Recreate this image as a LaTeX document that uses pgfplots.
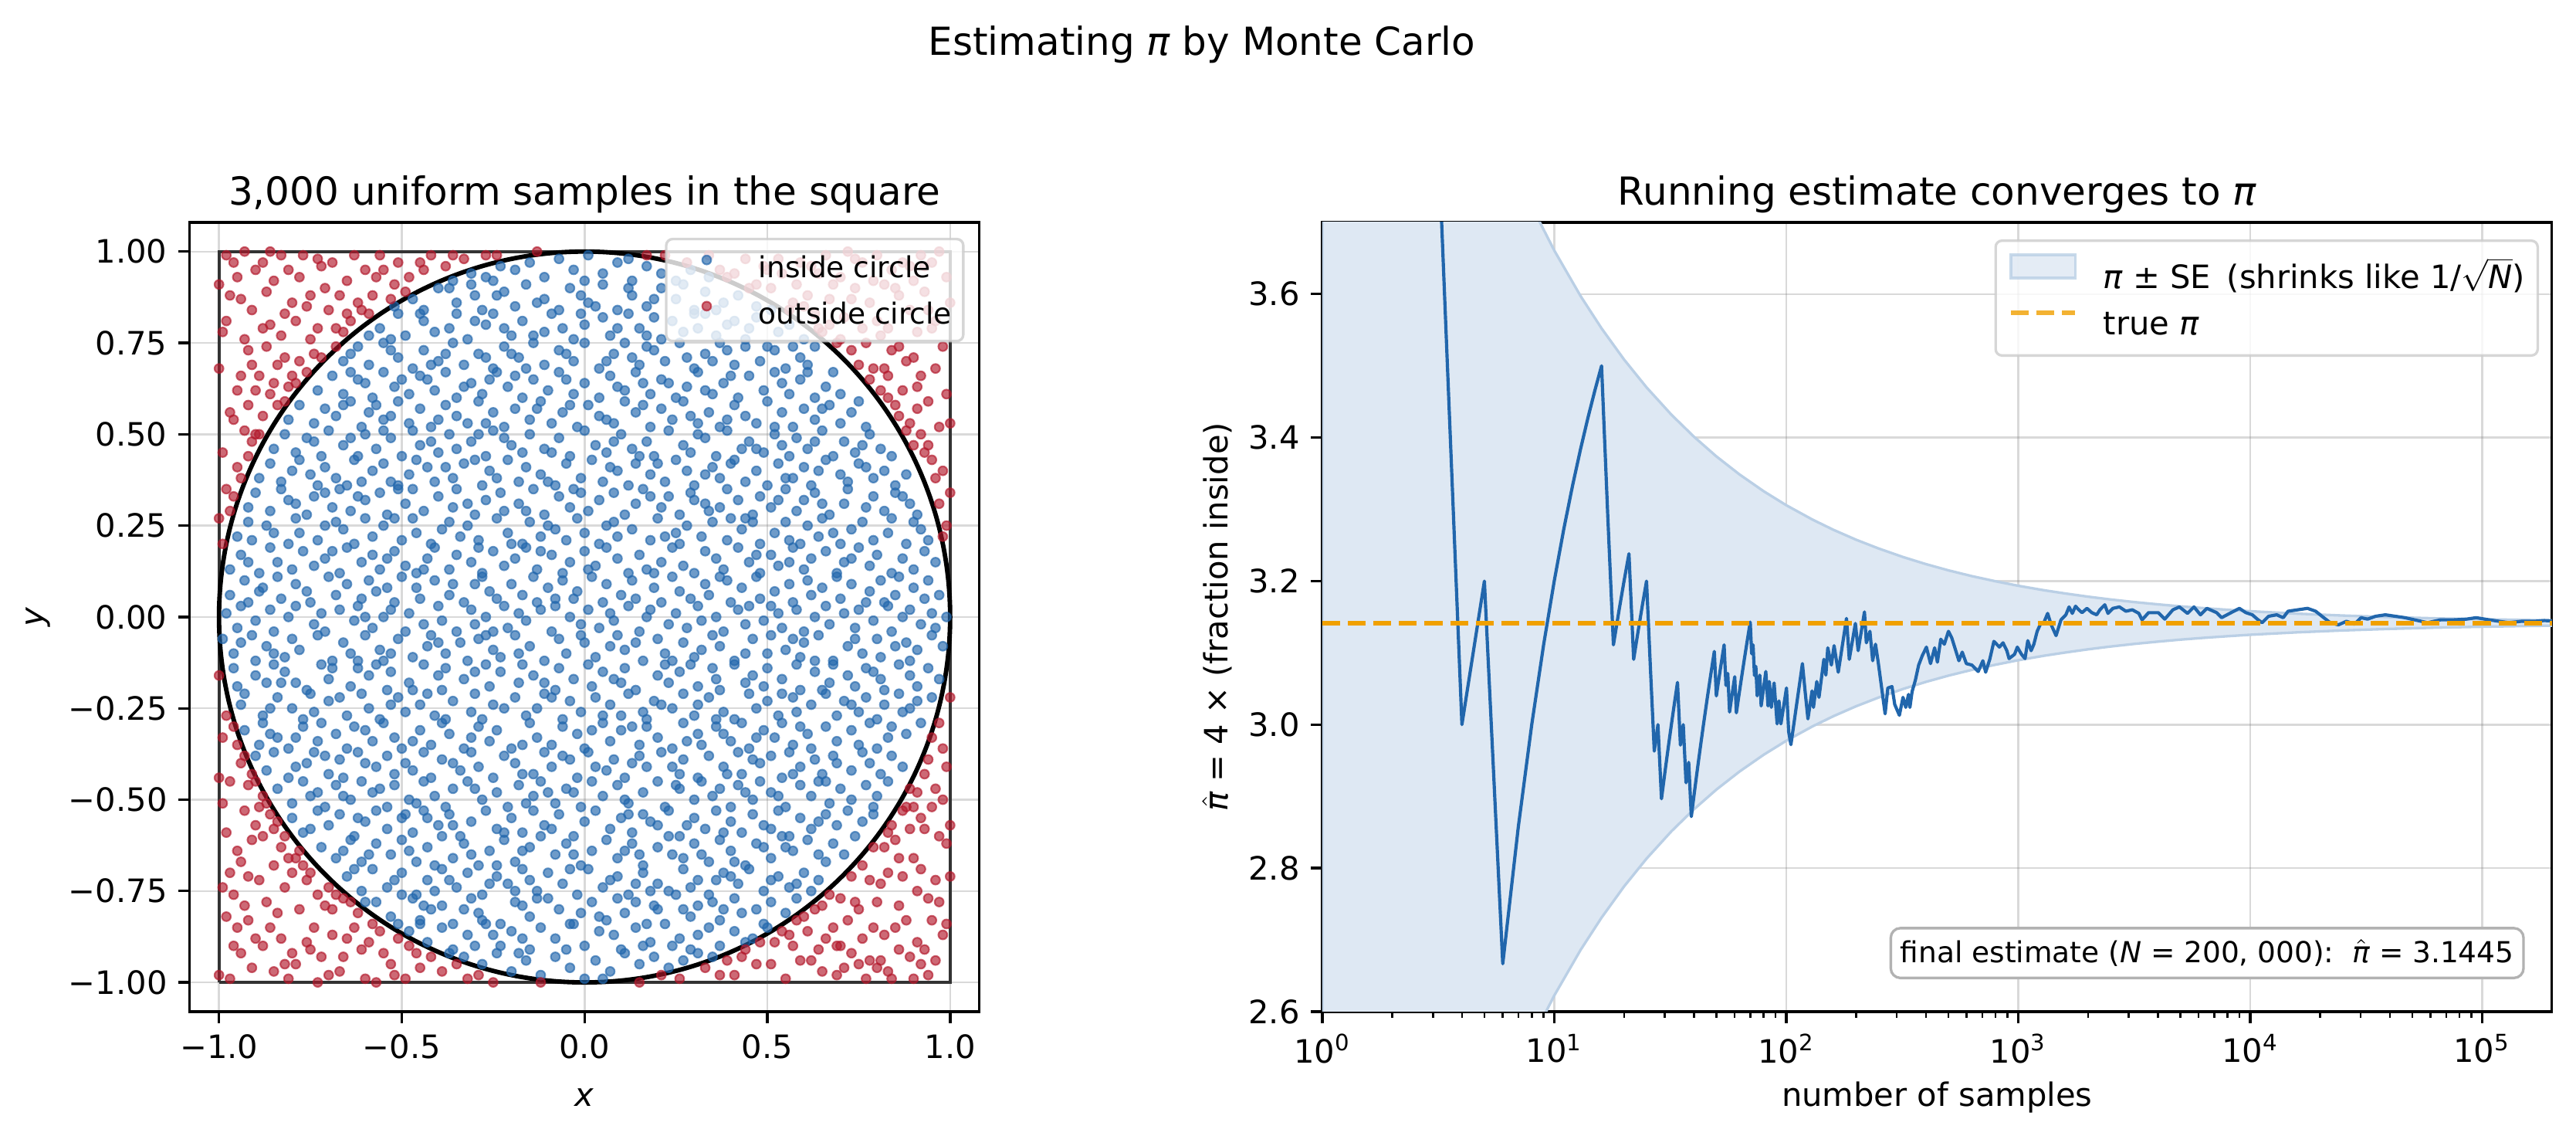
\documentclass[border=0pt]{standalone}
\usepackage{fontspec}
\setmainfont{DejaVu Sans}
\usepackage{pgfplots}
\pgfplotsset{compat=1.18}

\definecolor{inblue}{HTML}{2166AC}
\definecolor{outred}{HTML}{B2182B}
\definecolor{bandfill}{HTML}{DEE8F3}
\definecolor{bandedge}{HTML}{BACFE5}
\definecolor{truepi}{HTML}{F0A000}
\definecolor{squaregray}{HTML}{333333}
\definecolor{framegray}{HTML}{CCCCCC}

\newcommand{\tenpt}{\fontsize{10}{12}\selectfont}
\newcommand{\ninept}{\fontsize{9}{10.8}\selectfont}
\newcommand{\twelvept}{\fontsize{12}{14.4}\selectfont}
\newcommand{\itpi}{\mbox{\itshape π}}

\pgfplotsset{
  mpl/.style={
    scale only axis,
    axis line style={line width=0.8pt},
    every major tick/.append style={black, line width=0.8pt},
    every minor tick/.append style={black, line width=0.6pt},
    major tick length=3.5pt,
    minor tick length=2pt,
    tick align=outside,
    tick pos=left,
    grid=major,
    major grid style={line width=0.6pt, gray, opacity=0.3},
    tick label style={font=\tenpt},
    label style={font=\tenpt},
    title style={font=\twelvept, at={(axis description cs:0.5,1)}, anchor=base, yshift=-0.7pt},
    xlabel style={at={(axis description cs:0.5,0)}, anchor=base, yshift=-29.3pt},
    /pgf/number format/assume math mode=true,
  },
  patchlegend/.style={legend image code/.code={\draw[##1, sharp corners] (0pt,0pt) rectangle (20pt,7.2pt);}},
  dashlegend/.style={legend image code/.code={\draw[##1, sharp corners] (0pt,3.6pt) -- (20pt,3.6pt);}},
  dotlegend/.style={legend image code/.code={%
    \path[draw=none, fill=none, sharp corners] (0pt,0pt) rectangle (18pt,6pt);
    \draw[draw=#1, fill=#1, draw opacity=0.65, fill opacity=0.65, line width=0.5pt, sharp corners] (9pt,3pt) circle [radius=1.4pt];}},
  samplemarks/.style={only marks, mark=*, mark size=1.4pt, color=#1,
    mark options={line width=0.5pt, draw=#1, fill=#1, draw opacity=0.65, fill opacity=0.65},
    dotlegend=#1},
}

\begin{document}
\begin{tikzpicture}
\path[use as bounding box] (0,0) rectangle (800.9pt,353pt);

\node[anchor=base, font=\twelvept] at (373.7pt,335.8pt) {Estimating {\itshape π} by Monte Carlo};

% ---------------- left panel: samples in the unit square (coordinates in hundredths)
\begin{axis}[mpl,
  at={(59pt,38.6pt)}, anchor=south west,
  width=245.5pt, height=245.3pt,
  xmin=-108, xmax=108, ymin=-108, ymax=108,
  xtick={-100,-50,0,50,100},
  xticklabels={−1.0,−0.5,0.0,0.5,1.0},
  ytick={-100,-75,-50,-25,0,25,50,75,100},
  yticklabels={−1.00,−0.75,−0.50,−0.25,0.00,0.25,0.50,0.75,1.00},
  xlabel={\itshape x}, ylabel={\itshape y},
  ylabel style={at={(axis description cs:-0.1846,0.5)}, anchor=base},
  title={3,000 uniform samples in the square},
  legend cell align=left,
  legend style={at={(axis description cs:1,1)}, anchor=north east, xshift=-4.6pt, yshift=-4.8pt,
    draw=framegray, line width=0.8pt, rounded corners=2pt, fill=white, fill opacity=0.8,
    draw opacity=0.8, text opacity=1, font=\ninept, inner xsep=3.6pt, inner ysep=3.5pt,
    row sep=4pt, nodes={inner sep=0pt, text height=6.8pt, text depth=1.9pt},
    /tikz/every odd column/.append style={column sep=7.2pt}},
]
% the unit square
\addplot[forget plot, mark=none, line width=1pt, color=squaregray]
  coordinates {(-100,-100) (100,-100) (100,100) (-100,100) (-100,-100)};

% samples that fall inside the circle
\addplot[samplemarks=inblue]
coordinates {
(-98,1) (-95,-3) (-94,3) (-90,-1) (-86,2) (-85,-4) (-81,0) (-79,3) (-74,-2) (-72,1) (-71,-4) (-67,2) (-63,-1) (-62,3) (-58,-3) (-55,0) (-53,2) (-49,-4) (-48,1) (-44,-2) (-40,3) (-39,-1) (-35,-4) (-31,2) (-30,-2) (-27,0) (-22,3) (-21,-3) (-18,1) (-16,-1) (-12,2) (-9,-4) (-8,3) (-4,0) (-1,-2) (1,2) (4,-3) (7,1) (8,-1) (12,3) (15,-4) (17,0) (18,2) (23,-2) (25,1) (28,-3) (31,3) (32,-1) (36,0) (38,-4) (42,2) (44,-2) (45,3) (49,-1) (53,1) (54,-3) (58,2) (60,-4) (63,0) (66,3) (67,-2) (71,1) (74,-3) (75,2) (79,-1) (83,3) (84,-4) (87,0) (89,2) (92,-2) (95,1) (96,-3) (99,0) (-60,0) (-25,-4) (51,3)
(-97,6) (-93,10) (-92,4) (-88,8) (-84,11) (-83,5) (-79,9) (-76,7) (-75,4) (-70,11) (-68,6) (-65,9) (-61,5) (-59,10) (-57,7) (-52,4) (-50,11) (-46,8) (-45,5) (-41,10) (-37,6) (-36,9) (-33,4) (-28,11) (-26,7) (-24,5) (-20,9) (-17,6) (-14,11) (-13,4) (-10,8) (-6,10) (-3,5) (-2,7) (2,11) (5,4) (6,9) (10,6) (13,10) (14,5) (19,8) (21,4) (24,11) (26,7) (29,5) (33,9) (34,6) (39,10) (40,4) (43,8) (47,11) (48,5) (52,7) (56,9) (57,4) (61,10) (62,6) (65,8) (69,11) (70,5) (73,9) (77,4) (78,7) (81,10) (85,6) (86,11) (90,8) (93,5) (94,10) (97,6) (-54,8) (-8,5) (37,11) (-30,9) (82,4) (-89,7)
(-99,-6) (-96,-10) (-91,-5) (-90,-12) (-87,-8) (-82,-11) (-80,-6) (-78,-9) (-73,-5) (-69,-12) (-66,-7) (-64,-10) (-60,-5) (-56,-9) (-55,-12) (-51,-6) (-47,-11) (-43,-8) (-42,-5) (-38,-10) (-34,-7) (-32,-12) (-29,-6) (-25,-9) (-23,-11) (-19,-5) (-15,-8) (-11,-12) (-7,-6) (-5,-10) (0,-7) (3,-11) (9,-5) (11,-9) (16,-12) (20,-6) (22,-10) (27,-7) (30,-11) (35,-5) (37,-8) (41,-12) (46,-6) (50,-10) (51,-5) (55,-9) (59,-11) (60,-7) (64,-5) (68,-12) (72,-8) (76,-10) (80,-6) (81,-11) (88,-7) (91,-9) (95,-5) (98,-8) (-85,-10) (-62,-12) (-40,-7) (-18,-10) (-1,-5) (14,-7) (32,-9) (44,-10) (63,-12) (74,-6) (85,-8) (-94,-7) (-53,-10) (7,-8) (57,-6) (89,-12) (-27,-5) (24,-12)
(-97,13) (-94,17) (-89,12) (-86,19) (-84,15) (-80,13) (-77,18) (-74,14) (-71,16) (-67,12) (-65,19) (-61,15) (-58,17) (-56,13) (-52,18) (-49,14) (-46,12) (-43,16) (-41,19) (-37,13) (-35,17) (-31,15) (-28,12) (-25,18) (-22,14) (-19,16) (-16,19) (-13,13) (-9,17) (-6,12) (-4,15) (0,18) (3,14) (6,19) (9,16) (12,12) (15,17) (17,13) (21,15) (24,19) (27,14) (30,12) (33,18) (36,16) (38,13) (42,19) (45,15) (48,12) (51,17) (53,14) (57,19) (60,13) (62,16) (66,18) (69,12) (71,15) (75,19) (78,14) (80,17) (84,12) (87,16) (90,13) (93,18) (96,15) (-92,15) (-69,18) (-44,13) (-12,18) (19,12) (47,17) (73,16) (-54,16) (1,13) (-29,19) (56,15)
(-96,-14) (-95,-19) (-90,-16) (-85,-13) (-83,-18) (-82,-15) (-76,-20) (-72,-13) (-70,-17) (-69,-14) (-64,-19) (-59,-16) (-57,-13) (-54,-20) (-53,-15) (-48,-18) (-44,-13) (-40,-16) (-39,-20) (-38,-14) (-33,-17) (-27,-13) (-26,-19) (-23,-15) (-18,-18) (-17,-13) (-14,-16) (-8,-20) (-7,-14) (-3,-17) (1,-13) (2,-19) (5,-15) (10,-18) (11,-14) (14,-20) (20,-16) (22,-13) (23,-18) (26,-15) (31,-19) (35,-14) (36,-17) (37,-20) (41,-13) (46,-16) (49,-19) (50,-14) (54,-17) (58,-13) (59,-20) (63,-15) (67,-18) (68,-13) (72,-16) (74,-19) (77,-14) (81,-17) (82,-20) (86,-13) (89,-16) (91,-19) (94,-14) (97,-17) (-87,-18) (-62,-14) (-47,-20) (-30,-15) (-11,-18) (8,-17) (29,-13) (44,-18) (65,-20) (79,-15) (-79,-18)
(-95,22) (-92,26) (-91,21) (-87,25) (-81,20) (-79,27) (-78,23) (-73,21) (-68,26) (-66,24) (-63,20) (-60,27) (-58,22) (-55,25) (-50,21) (-47,27) (-46,23) (-42,20) (-37,26) (-34,22) (-32,25) (-29,21) (-24,27) (-21,23) (-20,20) (-15,26) (-12,22) (-10,25) (-5,21) (-2,27) (0,23) (4,20) (8,26) (9,22) (13,24) (18,21) (20,27) (25,23) (26,20) (28,25) (32,22) (35,26) (39,21) (43,24) (44,27) (48,20) (52,23) (55,26) (56,21) (61,25) (64,22) (65,27) (70,20) (73,24) (76,26) (79,21) (83,23) (84,27) (88,20) (92,24) (94,21) (-85,23) (-71,25) (-52,27) (-39,24) (-17,20) (6,25) (22,22) (40,27) (59,20) (68,23) (90,26) (-8,24) (46,26)
(-94,-24) (-93,-21) (-88,-27) (-84,-22) (-80,-25) (-77,-28) (-75,-21) (-74,-26) (-70,-23) (-65,-27) (-61,-21) (-59,-25) (-56,-28) (-51,-22) (-49,-26) (-45,-24) (-43,-21) (-41,-27) (-36,-23) (-31,-26) (-30,-21) (-28,-28) (-25,-24) (-19,-22) (-16,-27) (-13,-25) (-11,-21) (-6,-28) (-4,-23) (-1,-26) (3,-22) (5,-27) (7,-24) (12,-21) (16,-26) (17,-28) (19,-23) (24,-25) (27,-21) (30,-27) (31,-24) (34,-22) (38,-26) (41,-28) (45,-21) (47,-25) (50,-23) (53,-27) (57,-22) (58,-26) (62,-24) (66,-21) (69,-27) (71,-23) (75,-26) (77,-22) (80,-28) (82,-24) (86,-21) (87,-26) (91,-23) (95,-22) (-86,-25) (-67,-22) (-53,-24) (-38,-28) (-22,-25) (-9,-22) (10,-27) (21,-24) (36,-28) (54,-21) (73,-24) (89,-25)
(-92,30) (-90,34) (-86,29) (-83,35) (-79,31) (-76,28) (-74,33) (-69,30) (-67,35) (-64,29) (-60,32) (-56,34) (-54,28) (-49,31) (-47,35) (-44,29) (-40,33) (-36,30) (-35,35) (-30,28) (-27,32) (-23,34) (-22,29) (-18,31) (-14,35) (-11,28) (-7,33) (-4,30) (-3,35) (1,29) (4,32) (8,34) (11,28) (14,31) (16,35) (21,30) (23,33) (26,28) (29,34) (33,31) (34,29) (39,35) (42,32) (46,28) (48,33) (51,30) (55,35) (58,29) (60,32) (63,34) (67,28) (71,31) (72,35) (77,30) (79,33) (82,29) (85,34) (89,31) (91,28) (-81,32) (-62,33) (-51,35) (-32,31) (-16,29) (-1,34) (18,33) (37,30) (53,32) (65,31) (87,33) (-71,34) (30,32)
(-93,-31) (-89,-35) (-88,-29) (-84,-33) (-81,-36) (-77,-30) (-73,-34) (-72,-29) (-68,-32) (-65,-36) (-63,-30) (-58,-34) (-55,-29) (-52,-33) (-50,-36) (-45,-31) (-42,-35) (-39,-29) (-37,-32) (-33,-36) (-29,-30) (-26,-34) (-24,-31) (-20,-36) (-15,-29) (-13,-33) (-9,-35) (-6,-30) (-2,-32) (0,-36) (5,-29) (7,-34) (10,-31) (15,-35) (17,-30) (20,-33) (24,-36) (27,-29) (31,-32) (32,-35) (36,-30) (40,-34) (43,-29) (45,-36) (49,-31) (52,-33) (54,-29) (57,-35) (61,-32) (62,-36) (66,-30) (69,-34) (73,-31) (75,-35) (78,-29) (83,-33) (84,-30) (88,-32) (92,-29) (-79,-33) (-60,-31) (-47,-34) (-31,-33) (-17,-35) (2,-31) (13,-30) (28,-34) (38,-32) (59,-30) (80,-36) (-86,-32) (47,-33)
(-89,38) (-86,42) (-83,37) (-80,40) (-78,43) (-73,36) (-71,41) (-68,38) (-63,43) (-61,37) (-58,40) (-55,42) (-51,36) (-48,39) (-46,43) (-41,37) (-38,41) (-36,38) (-33,42) (-28,36) (-26,40) (-21,43) (-18,37) (-16,41) (-12,39) (-8,36) (-5,42) (-1,38) (2,43) (5,37) (9,40) (12,36) (14,42) (18,39) (22,37) (25,43) (28,40) (30,36) (35,41) (37,38) (41,43) (44,37) (47,40) (50,36) (53,42) (57,38) (60,41) (62,36) (66,43) (70,39) (72,37) (75,42) (79,38) (82,40) (85,36) (88,39) (-75,39) (-53,37) (-43,41) (-30,43) (-10,37) (7,41) (20,42) (33,39) (55,38) (64,40) (77,41) (-65,36) (-24,38) (40,42)
(-90,-38) (-87,-42) (-85,-37) (-81,-44) (-76,-40) (-74,-37) (-70,-43) (-67,-39) (-66,-44) (-62,-37) (-57,-41) (-54,-38) (-52,-43) (-49,-40) (-44,-37) (-42,-44) (-39,-39) (-34,-42) (-31,-37) (-29,-41) (-25,-44) (-22,-38) (-19,-40) (-14,-43) (-11,-37) (-9,-41) (-4,-39) (-2,-44) (1,-37) (6,-42) (8,-39) (11,-44) (15,-38) (17,-41) (21,-37) (26,-43) (27,-39) (31,-44) (34,-38) (38,-41) (42,-37) (43,-43) (48,-40) (51,-38) (54,-44) (56,-37) (59,-41) (63,-39) (65,-43) (68,-38) (73,-42) (76,-37) (78,-40) (81,-43) (84,-38) (87,-41) (-79,-41) (-60,-40) (-47,-42) (-36,-40) (-17,-43) (-6,-38) (13,-40) (24,-41) (39,-43) (46,-39) (69,-40) (-71,-38) (3,-41) (57,-43)
(-85,46) (-82,50) (-79,45) (-76,49) (-72,44) (-70,51) (-66,47) (-62,44) (-60,50) (-57,46) (-53,49) (-50,44) (-47,51) (-45,47) (-40,45) (-37,50) (-35,46) (-31,48) (-27,44) (-25,51) (-20,47) (-17,45) (-15,50) (-11,46) (-7,49) (-4,44) (0,51) (3,47) (6,45) (10,50) (13,46) (17,48) (19,44) (23,51) (27,47) (29,45) (33,49) (36,44) (39,51) (43,46) (45,48) (49,45) (52,50) (56,44) (58,49) (61,46) (65,51) (68,44) (71,48) (74,45) (78,50) (81,46) (84,44) (-74,48) (-55,51) (-42,48) (-29,50) (-9,45) (8,48) (15,44) (31,50) (47,46) (63,48) (76,47) (-64,49) (-22,49) (54,47)
(-84,-47) (-80,-51) (-77,-45) (-75,-49) (-71,-52) (-68,-46) (-64,-50) (-61,-45) (-58,-48) (-54,-52) (-52,-46) (-48,-50) (-44,-45) (-41,-49) (-38,-52) (-36,-47) (-32,-45) (-28,-50) (-24,-48) (-21,-52) (-18,-46) (-14,-49) (-12,-45) (-8,-51) (-5,-47) (-1,-52) (2,-45) (5,-49) (9,-46) (12,-51) (16,-48) (20,-45) (22,-52) (26,-47) (30,-50) (32,-45) (35,-49) (40,-52) (42,-46) (46,-50) (48,-45) (51,-48) (55,-52) (59,-46) (62,-49) (64,-45) (67,-51) (70,-47) (73,-50) (77,-46) (80,-49) (83,-45) (-73,-48) (-56,-47) (-46,-51) (-30,-47) (-16,-51) (-3,-48) (11,-50) (25,-46) (37,-47) (53,-49) (66,-45) (79,-52) (-66,-49) (-10,-48) (44,-48)
(-81,54) (-78,58) (-74,53) (-71,57) (-68,55) (-64,59) (-61,52) (-59,56) (-55,54) (-51,59) (-48,53) (-45,57) (-42,52) (-38,58) (-35,55) (-32,53) (-29,59) (-25,56) (-22,52) (-19,57) (-15,54) (-12,59) (-9,53) (-6,56) (-2,52) (1,58) (4,55) (8,53) (11,59) (14,56) (18,52) (21,57) (24,54) (27,59) (31,53) (34,56) (37,52) (41,58) (44,55) (47,53) (50,59) (54,56) (57,52) (60,57) (63,54) (67,58) (70,53) (73,56) (77,52) (-66,58) (-53,55) (-40,54) (-27,53) (-13,57) (-4,58) (16,58) (29,55) (39,54) (52,52) (65,57) (75,59) (-57,58) (6,54)
(-80,-55) (-77,-59) (-73,-53) (-70,-57) (-67,-54) (-63,-60) (-60,-56) (-57,-53) (-54,-58) (-50,-55) (-47,-59) (-44,-53) (-40,-57) (-37,-54) (-34,-60) (-31,-56) (-27,-53) (-24,-58) (-20,-55) (-17,-59) (-14,-53) (-11,-57) (-7,-54) (-3,-60) (0,-56) (3,-53) (7,-58) (10,-55) (13,-59) (16,-54) (20,-57) (23,-53) (26,-60) (30,-55) (33,-58) (36,-53) (40,-56) (43,-59) (46,-54) (49,-57) (53,-53) (56,-60) (59,-55) (62,-58) (66,-54) (69,-57) (72,-53) (76,-56) (79,-54) (-75,-58) (-62,-55) (-49,-54) (-36,-57) (-22,-59) (-9,-58) (12,-54) (28,-57) (38,-59) (51,-58) (64,-56) (74,-60) (-43,-55) (18,-56)
(-73,62) (-69,66) (-66,61) (-62,65) (-58,60) (-55,67) (-52,63) (-48,61) (-45,66) (-41,62) (-38,67) (-35,60) (-31,64) (-28,61) (-24,67) (-21,63) (-17,60) (-14,65) (-10,62) (-7,67) (-3,61) (0,64) (4,60) (7,66) (11,62) (14,67) (18,61) (21,65) (25,60) (28,63) (31,67) (35,61) (38,64) (42,60) (45,66) (49,62) (52,67) (56,61) (59,65) (63,60) (66,63) (70,61) (-60,64) (-43,65) (-33,63) (-19,66) (-5,65) (9,63) (23,64) (40,66) (54,64) (68,67) (-50,65) (-26,65) (16,64) (33,62) (61,67) (-64,67)
(-72,-63) (-68,-66) (-64,-61) (-61,-67) (-57,-62) (-53,-65) (-50,-61) (-46,-67) (-43,-63) (-39,-60) (-36,-66) (-33,-62) (-29,-68) (-26,-64) (-22,-61) (-19,-67) (-15,-63) (-12,-60) (-8,-65) (-5,-62) (-1,-68) (2,-64) (6,-61) (9,-66) (13,-62) (16,-68) (20,-63) (23,-60) (27,-66) (30,-62) (34,-67) (37,-61) (40,-64) (44,-68) (47,-62) (51,-66) (54,-60) (57,-64) (61,-61) (64,-65) (68,-62) (71,-65) (-59,-65) (-41,-68) (-31,-65) (-17,-64) (-3,-65) (11,-64) (24,-65) (41,-67) (55,-63) (66,-67) (-48,-64) (-24,-68) (15,-65) (32,-65) (49,-63) (-66,-64)
(-66,70) (-62,74) (-59,69) (-55,75) (-51,71) (-47,68) (-44,73) (-40,70) (-36,75) (-33,69) (-29,72) (-25,68) (-22,74) (-18,71) (-14,75) (-11,69) (-7,73) (-3,70) (0,75) (4,68) (8,72) (11,75) (15,69) (19,73) (22,70) (26,75) (30,68) (33,72) (37,75) (41,69) (44,74) (48,70) (52,73) (55,68) (59,71) (63,74) (-53,73) (-38,72) (-27,71) (-16,68) (-5,72) (6,70) (17,74) (28,71) (39,73) (50,74) (61,69) (-64,72) (-42,69) (-20,72) (13,71) (35,70) (57,74)
(-65,-71) (-61,-75) (-58,-69) (-54,-74) (-50,-70) (-46,-76) (-43,-72) (-39,-69) (-35,-74) (-32,-70) (-28,-76) (-24,-71) (-21,-73) (-17,-69) (-13,-75) (-10,-70) (-6,-73) (-2,-76) (1,-69) (5,-74) (9,-71) (12,-76) (16,-70) (20,-73) (23,-75) (27,-69) (31,-72) (34,-76) (38,-70) (42,-73) (45,-69) (49,-75) (53,-71) (56,-74) (60,-70) (64,-72) (-52,-72) (-37,-72) (-26,-73) (-15,-72) (-4,-69) (7,-72) (18,-75) (29,-74) (40,-71) (51,-72) (62,-75) (-63,-69) (-41,-75) (-19,-75) (14,-73) (36,-72) (58,-73)
(-56,79) (-51,83) (-49,77) (-44,81) (-41,78) (-35,83) (-32,76) (-27,80) (-25,83) (-20,77) (-17,81) (-11,78) (-9,83) (-3,76) (0,80) (5,82) (7,77) (12,83) (15,79) (21,76) (24,81) (27,78) (33,83) (36,77) (39,80) (44,76) (47,82) (53,78) (56,80) (-53,76) (-37,79) (-22,79) (-14,77) (-1,83) (9,79) (19,82) (31,79) (45,79) (-59,77) (-45,83) (-30,81) (-6,79) (17,77) (30,83) (41,81) (60,76)
(-57,-78) (-53,-82) (-47,-77) (-45,-83) (-39,-79) (-36,-84) (-31,-77) (-29,-81) (-23,-84) (-19,-78) (-15,-82) (-13,-77) (-7,-80) (-4,-84) (2,-78) (4,-82) (9,-77) (11,-81) (17,-84) (19,-79) (25,-76) (29,-82) (31,-79) (37,-83) (41,-77) (43,-81) (49,-84) (51,-78) (55,-81) (-50,-76) (-42,-80) (-28,-83) (-17,-79) (-1,-81) (6,-83) (20,-80) (35,-78) (47,-80) (-60,-78) (-44,-79) (-33,-80) (-10,-77) (14,-78) (27,-80) (38,-80) (58,-77)
(-52,85) (-47,87) (-44,84) (-40,90) (-35,86) (-31,91) (-28,84) (-24,88) (-19,85) (-16,91) (-11,87) (-7,84) (-4,90) (1,86) (5,91) (9,84) (13,88) (17,85) (21,90) (25,87) (30,84) (33,89) (38,86) (42,88) (47,85) (51,84) (-37,90) (-22,89) (-13,86) (-1,88) (12,90) (27,91) (-30,88) (3,85) (19,87) (36,84)
(-51,-84) (-48,-86) (-43,-89) (-39,-85) (-36,-91) (-32,-87) (-27,-84) (-23,-90) (-20,-86) (-15,-91) (-12,-85) (-8,-88) (-3,-84) (0,-90) (4,-86) (10,-91) (14,-85) (18,-89) (22,-84) (26,-88) (29,-91) (34,-85) (37,-90) (41,-86) (46,-88) (50,-85) (-45,-84) (-30,-90) (-17,-88) (-5,-91) (8,-87) (24,-90) (-25,-87) (16,-90) (31,-87) (44,-89)
(-36,92) (-31,94) (-27,93) (-23,96) (-19,95) (-15,97) (-11,93) (-7,98) (-3,95) (1,99) (5,94) (9,97) (13,92) (17,96) (21,94) (25,92) (29,95) (34,93) (-25,92) (0,92) (12,98)
(-37,-92) (-33,-93) (-28,-95) (-24,-92) (-20,-97) (-16,-94) (-12,-98) (-8,-93) (-4,-96) (0,-99) (3,-94) (7,-97) (11,-92) (15,-95) (19,-93) (23,-96) (27,-94) (31,-92) (35,-93) (-18,-92) (5,-99)
};
\addlegendentry{inside circle}

% samples that fall outside the circle
\addplot[samplemarks=outred]
coordinates {
(-99,45) (-97,88) (-95,62) (-92,73) (-100,27) (-96,97) (-93,51) (-91,84) (-98,35) (-94,66) (-90,95) (-99,78) (-97,29) (-95,41) (-92,58) (-100,91) (-96,54) (-93,100) (-91,69) (-98,81) (-94,38) (-90,62) (-99,20) (-97,56) (-95,93) (-92,44) (-100,68) (-96,33) (-94,87) (-91,48) (-98,99) (-93,76) (-90,50)
(-88,55) (-85,92) (-82,71) (-89,66) (-86,80) (-83,99) (-81,63) (-87,74) (-84,58) (-80,86) (-88,97) (-85,64) (-82,83) (-89,50) (-86,61) (-83,77) (-81,95) (-87,89) (-84,69) (-80,66) (-86,100) (-82,59) (-88,79)
(-78,70) (-75,88) (-72,96) (-79,81) (-76,67) (-73,79) (-71,90) (-77,99) (-74,72) (-70,84) (-78,93) (-75,76) (-72,71) (-79,64) (-76,85) (-73,98)
(-68,79) (-65,92) (-62,86) (-69,97) (-66,78) (-63,99) (-61,84) (-67,88) (-64,81) (-60,95) (-68,74) (-65,83)
(-58,88) (-55,95) (-52,91) (-59,83) (-56,99) (-53,87) (-57,93) (-51,97) (-48,93) (-45,97) (-42,99) (-49,89) (-44,95)
(-38,96) (-33,98) (-36,99) (-27,99) (-24,99) (-13,100)
(98,40) (95,79) (91,57) (99,93) (93,45) (96,68) (92,99) (100,34) (94,84) (90,71) (97,52) (99,25) (95,97) (91,63) (93,89) (96,38) (98,74) (92,50) (100,86) (94,59) (90,92) (97,31) (99,61) (95,43) (91,78) (93,96) (96,81) (98,22) (92,66) (100,53) (94,47) (90,47) (97,100)
(87,62) (84,95) (81,77) (89,53) (86,88) (83,66) (80,99) (88,70) (85,58) (82,91) (89,84) (86,55) (83,79) (81,62) (87,97) (84,73) (80,81) (88,51) (85,90) (82,68) (89,96) (86,74) (83,60)
(77,75) (74,90) (71,82) (79,68) (76,97) (73,73) (70,93) (78,86) (75,69) (72,100) (79,92) (76,79) (73,87) (70,76) (78,65) (74,98)
(67,80) (64,94) (61,88) (69,75) (66,99) (63,83) (68,91) (65,78) (62,96) (60,85) (67,87) (64,79)
(57,86) (54,94) (51,90) (59,97) (56,84) (53,98) (58,91) (50,95) (47,91) (44,98) (41,94) (49,96) (45,90)
(37,95) (34,99) (39,93) (28,97) (22,99) (17,99)
(-97,-45) (-94,-92) (-91,-61) (-99,-33) (-96,-76) (-93,-53) (-100,-98) (-92,-83) (-98,-27) (-95,-64) (-90,-88) (-97,-70) (-99,-51) (-94,-40) (-91,-96) (-96,-30) (-93,-79) (-100,-16) (-98,-59) (-92,-46) (-95,-85) (-90,-57) (-97,-99) (-99,-74) (-94,-67) (-91,-43) (-96,-90) (-93,-38) (-100,-44) (-98,-82) (-95,-35) (-92,-71) (-90,-45)
(-88,-60) (-85,-97) (-82,-74) (-89,-52) (-86,-85) (-83,-63) (-80,-92) (-87,-78) (-84,-56) (-81,-99) (-88,-90) (-85,-68) (-82,-60) (-89,-72) (-86,-54) (-83,-88) (-80,-70) (-87,-51) (-84,-81) (-81,-66) (-88,-49) (-85,-58) (-82,-95)
(-79,-66) (-76,-89) (-73,-76) (-70,-98) (-78,-80) (-75,-70) (-72,-93) (-77,-68) (-74,-85) (-71,-79) (-79,-95) (-76,-72) (-73,-100) (-70,-74) (-78,-64) (-75,-91)
(-69,-80) (-66,-93) (-63,-85) (-60,-99) (-68,-76) (-65,-88) (-62,-81) (-67,-97) (-64,-78) (-61,-91) (-69,-87) (-66,-77)
(-58,-84) (-55,-92) (-52,-98) (-59,-89) (-56,-86) (-53,-95) (-57,-100) (-51,-88) (-48,-90) (-45,-96) (-42,-93) (-49,-99) (-46,-92)
(-39,-97) (-35,-95) (-32,-99) (-29,-98) (-25,-100) (-12,-100)
(96,-47) (93,-91) (99,-62) (91,-75) (98,-36) (95,-83) (92,-55) (100,-71) (94,-98) (97,-29) (90,-66) (99,-41) (93,-58) (96,-94) (91,-48) (98,-87) (95,-52) (92,-69) (100,-22) (94,-77) (97,-60) (90,-99) (99,-84) (93,-43) (96,-72) (91,-89) (98,-50) (95,-33) (92,-95) (100,-57) (94,-39) (97,-78) (90,-52)
(89,-58) (86,-91) (83,-70) (80,-96) (88,-83) (85,-61) (82,-87) (87,-53) (84,-99) (81,-73) (89,-93) (86,-66) (83,-59) (80,-78) (88,-52) (85,-85) (82,-63) (87,-71) (84,-57) (81,-94) (89,-47) (86,-79) (83,-97)
(78,-72) (75,-95) (72,-83) (79,-63) (76,-88) (73,-71) (70,-90) (77,-99) (74,-78) (71,-96) (79,-85) (76,-68) (73,-92) (70,-77) (78,-94) (75,-80)
(68,-85) (65,-79) (62,-94) (69,-98) (66,-88) (63,-80) (67,-76) (64,-91) (61,-86) (69,-90) (60,-82) (65,-97)
(57,-90) (54,-86) (51,-95) (58,-83) (55,-99) (52,-89) (59,-94) (56,-87) (47,-95) (44,-91) (41,-98) (48,-89) (43,-93)
(37,-98) (33,-96) (39,-94) (26,-99) (21,-98) (15,-100)
};
\addlegendentry{outside circle}

% the unit circle
\draw[line width=1.4pt, black] (axis cs:0,0) circle [radius=100];
\end{axis}

% ---------------- right panel: running estimate
\begin{axis}[mpl,
  at={(411.1pt,38.6pt)}, anchor=south west,
  width=382.3pt, height=245.3pt,
  xmode=log, xmin=1, xmax=200000, ymin=2.6, ymax=3.7,
  xtick={1,10,100,1000,10000,100000},
  xticklabels={10\textsuperscript{0},10\textsuperscript{1},10\textsuperscript{2},10\textsuperscript{3},10\textsuperscript{4},10\textsuperscript{5}},
  minor xtick={2,3,4,5,6,7,8,9,20,30,40,50,60,70,80,90,200,300,400,500,600,700,800,900,2000,3000,4000,5000,6000,7000,8000,9000,20000,30000,40000,50000,60000,70000,80000,90000},
  ytick={2.6,2.8,3.0,3.2,3.4,3.6},
  yticklabel style={/pgf/number format/.cd, fixed, fixed zerofill, precision=1},
  xlabel={number of samples},
  ylabel={$\hat{\itpi}$ = 4 × (fraction inside)},
  ylabel style={at={(axis description cs:-0.0766,0.5)}, anchor=base},
  title={Running estimate converges to {\itshape π}},
  legend cell align=left,
  legend style={at={(axis description cs:1,1)}, anchor=north east, xshift=-4pt, yshift=-5.3pt,
    draw=framegray, line width=0.8pt, rounded corners=2pt, fill=white, fill opacity=0.8,
    draw opacity=0.8, text opacity=1, font=\tenpt, inner xsep=4pt, inner ysep=4pt,
    row sep=3pt, nodes={inner sep=0pt, text height=9pt, text depth=2.4pt},
    /tikz/every odd column/.append style={column sep=8pt}},
]
% pi +/- standard error band (upper edge, then lower edge back)
\addplot[patchlegend, mark=none, fill=bandfill, draw=bandedge, line width=0.8pt]
coordinates {
(1,4.7838) (1.5,4.4825) (2,4.3028) (3,4.0897) (4,3.9627) (5,3.8760) (6,3.8120) (8,3.7222) (10,3.6609) (13,3.5971) (16,3.5522) (20,3.5088) (25,3.4700) (32,3.4319) (40,3.4013) (50,3.3738) (63,3.3485) (80,3.3252) (100,3.3058) (130,3.2856) (160,3.2714) (200,3.2577) (250,3.2455) (320,3.2334) (400,3.2237) (500,3.2150) (630,3.2070) (800,3.1997) (1000,3.1935) (1300,3.1871) (1600,3.1827) (2000,3.1783) (2500,3.1744) (3200,3.1706) (4000,3.1676) (5000,3.1648) (6300,3.1623) (8000,3.1600) (10000,3.1580) (16000,3.1546) (25000,3.1520) (40000,3.1498) (63000,3.1481) (100000,3.1468) (160000,3.1457) (200000,3.1453)
(200000,3.1379) (160000,3.1375) (100000,3.1364) (63000,3.1351) (40000,3.1334) (25000,3.1312) (16000,3.1286) (10000,3.1252) (8000,3.1232) (6300,3.1209) (5000,3.1184) (4000,3.1156) (3200,3.1126) (2500,3.1088) (2000,3.1049) (1600,3.1005) (1300,3.0961) (1000,3.0897) (800,3.0835) (630,3.0762) (500,3.0682) (400,3.0595) (320,3.0498) (250,3.0377) (200,3.0255) (160,3.0118) (130,2.9976) (100,2.9774) (80,2.9580) (63,2.9347) (50,2.9094) (40,2.8819) (32,2.8513) (25,2.8132) (20,2.7744) (16,2.7310) (13,2.6861) (10,2.6223) (8,2.5610) (6,2.4712) (5,2.4072) (4,2.3205) (3,2.1935) (2,1.9804) (1.5,1.8007) (1,1.4994) (1,4.7838)
};
\addlegendentry{{\itshape π} ± SE\enspace (shrinks like 1/$\sqrt{\mbox{\itshape N}}$)}

% running estimate 4 x (fraction inside)
\addplot[forget plot, mark=none, color=inblue, line width=1pt, line join=round]
coordinates {
(1,4) (2,4) (3,4) (4,3) (5,3.2) (6,2.6667) (7,2.8571) (8,3) (9,3.1111) (10,3.2) (11,3.2727) (12,3.3333) (13,3.3846) (14,3.4286) (15,3.4667) (16,3.5) (17,3.2941) (18,3.1111) (19,3.1579) (20,3.2) (21,3.2381) (22,3.0909) (23,3.1304) (24,3.1667) (25,3.2) (26,3.0769) (27,2.963) (28,3) (29,2.8966) (30,2.9333) (31,2.9677) (32,3) (33,3.0303) (34,3.0588) (35,2.9714) (36,3) (37,2.9189) (38,2.9474) (39,2.8718) (40,2.9) (41,2.9268) (42,2.9524) (43,2.9767) (44,3) (45,3.0222) (46,3.0435) (47,3.0638) (48,3.0833) (49,3.102) (50,3.04) (51,3.0588) (52,3.0769) (53,3.0943) (54,3.1111) (55,3.0545) (56,3.0714) (57,3.0175) (58,3.0345) (59,3.0508) (60,3.0667) (61,3.0164) (62,3.0323) (63,3.0476) (64,3.0625) (65,3.0769) (66,3.0909) (67,3.1045) (68,3.1176) (69,3.1304) (70,3.1429) (71,3.0986) (72,3.1111) (73,3.0685) (74,3.0811) (75,3.04)
(77,3.069) (78,3.026) (81.7,3.074) (83.5,3.026) (84.6,3.060) (86.3,3.024) (88.7,3.058) (91.4,3.001) (93.1,3.033) (94.9,3.001) (100.3,3.051) (102.5,2.990) (104.8,2.972) (117.5,3.085) (120.7,3.046) (124.1,3.008) (129.3,3.047) (131.1,3.024) (135.5,3.060) (138.5,3.038) (145.4,3.091) (148.3,3.069) (151.1,3.107) (156.6,3.083) (160.9,3.110) (167.7,3.073) (182,3.148) (187.1,3.091) (198.8,3.141) (204.3,3.103) (217.5,3.157) (221.6,3.114) (229.6,3.130) (236,3.089) (242.7,3.112) (249.3,3.087) (267,3.015) (274.3,3.051) (285.8,3.053) (293.8,3.028) (307.6,3.013) (318.9,3.038) (327.7,3.024) (336.8,3.042) (341.5,3.024) (349,3.046) (360.6,3.062) (372.6,3.083) (386.1,3.096) (402.3,3.108) (419.1,3.085) (436.6,3.107) (448.7,3.087) (463.8,3.119) (480.5,3.112) (500.6,3.130) (517.3,3.121) (536,3.105) (555.4,3.089) (574.1,3.101) (598.1,3.085) (631.8,3.083) (672.7,3.074) (704.7,3.089) (724.3,3.073) (754.6,3.091) (786.2,3.116) (830.4,3.108) (860.5,3.114) (894,3.103) (913.8,3.092) (965.1,3.098) (991.8,3.108) (1033.5,3.098) (1070.8,3.092) (1100.5,3.117) (1137.3,3.103) (1168.8,3.112) (1207.8,3.130) (1251.6,3.141) (1286.3,3.141) (1340.1,3.155)
(1389,3.139) (1457,3.124) (1530,3.146) (1606,3.153) (1658,3.164) (1712,3.155) (1768,3.165) (1826,3.160) (1886,3.156) (1980,3.162) (2078,3.156) (2181,3.153) (2251,3.160) (2363,3.167) (2440,3.155) (2561,3.162) (2732,3.164) (2913,3.158) (3108,3.160) (3314,3.155) (3422,3.146) (3650,3.156) (4020,3.156) (4288,3.147) (4647,3.160) (4957,3.164) (5373,3.155) (5728,3.164) (6109,3.153) (6516,3.162) (7177,3.156) (7534,3.149) (8166,3.155) (8991,3.162) (9590,3.156) (10228,3.153) (10735,3.147) (11265,3.142) (12015,3.151) (13022,3.153) (13889,3.149) (14575,3.158) (16055,3.160) (17684,3.162) (19168,3.158) (20774,3.149) (22158,3.142) (24010,3.139) (26025,3.144) (28203,3.140) (30089,3.149) (32088,3.147) (34770,3.151) (38303,3.153) (42195,3.151) (46463,3.149) (51184,3.146) (58210,3.142) (66222,3.146) (75317,3.146) (85667,3.147) (94365,3.149) (107350,3.146) (118190,3.144) (130230,3.142) (148140,3.144) (168510,3.144) (185590,3.145) (200000,3.1445)
};

% true value of pi
\addplot[dashlegend, mark=none, color=truepi, line width=1.5pt, dash pattern=on 5.55pt off 2.4pt]
coordinates {(1,3.14159) (200000,3.14159)};
\addlegendentry{true {\itshape π}}

\node[anchor=south east, draw=black!30, line width=0.8pt, rounded corners=3pt, fill=white,
  font=\ninept, inner xsep=3pt, inner ysep=3.5pt]
  at (axis description cs:0.978,0.041)
  {final estimate ({\itshape N} = 200, 000):\ \ $\hat{\itpi}$ = 3.1445};
\end{axis}
\end{tikzpicture}
\end{document}
